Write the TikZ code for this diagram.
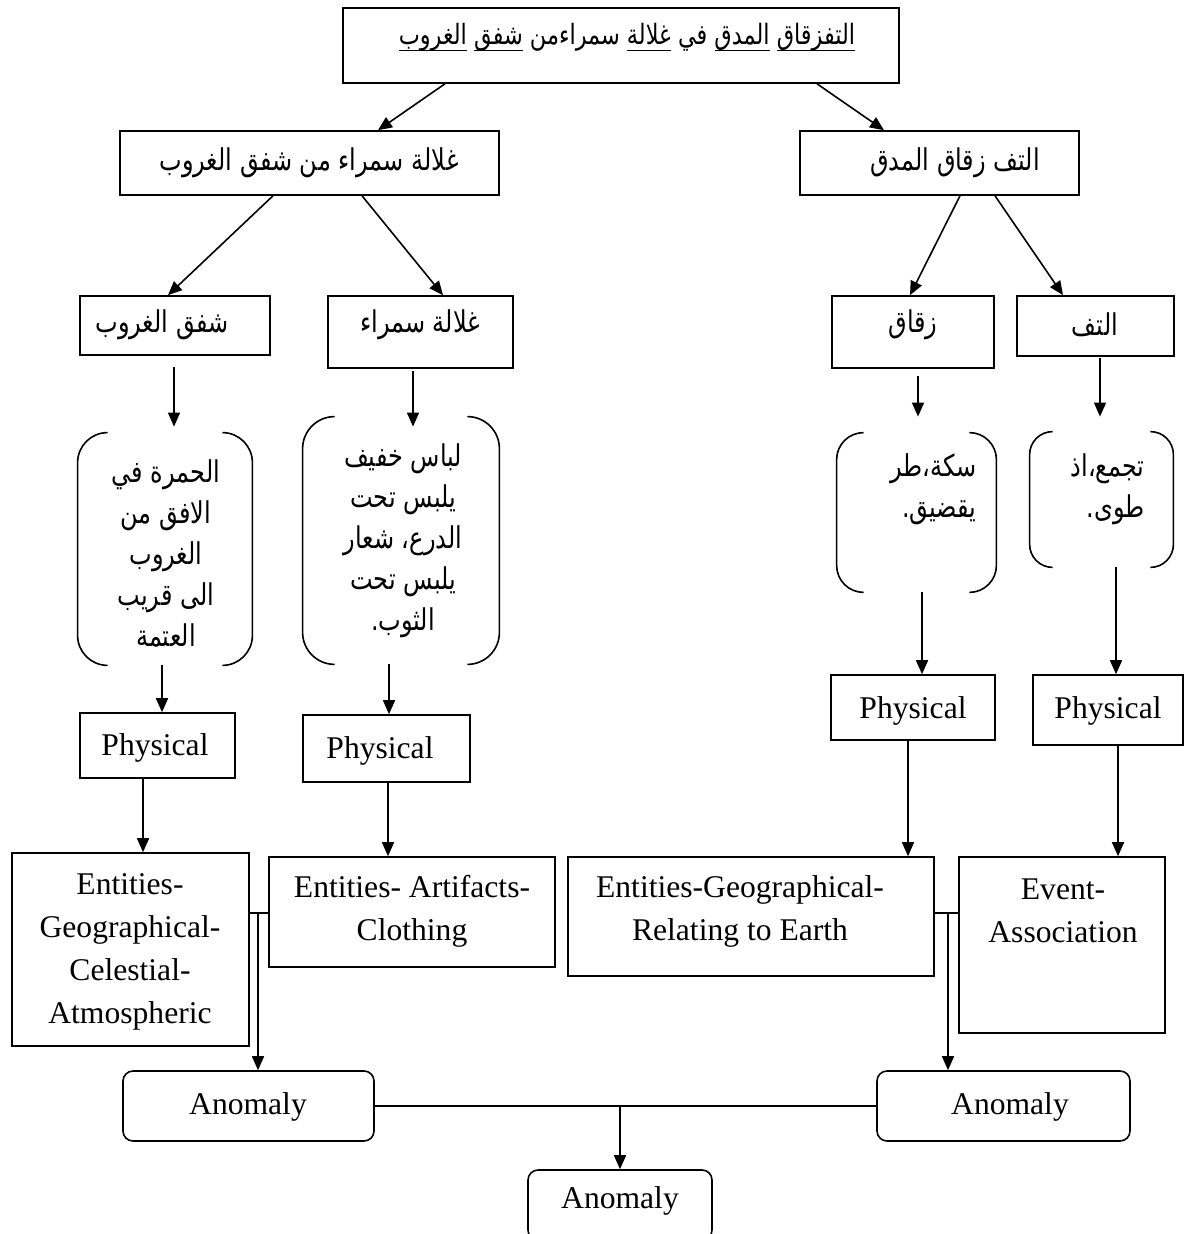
\documentclass[tikz,border=0pt]{standalone}
\usepackage{fontspec}
\setmainfont{Liberation Serif}
\newfontfamily\arabicfont[Script=Arabic, FakeStretch=0.8]{DejaVu Sans}
\TeXXeTstate=1
\usetikzlibrary{arrows.meta,fit}

% one right-to-left line of Arabic text
\newcommand\ar[1]{{\arabicfont\beginR #1\endR}}
% underlined Arabic word (rule drawn at a fixed depth below the baseline)
\newcommand\ulw[1]{\setbox0\hbox{#1}\hbox{\rlap{\rule[-3.5pt]{\wd0}{0.7pt}}\box0}}
% open bracket frame: only the curved left and right sides of a node
\newcommand\bracketpair[2]{%
  \draw[ln, rounded corners=#2] ([xshift=#2]#1.north west) -- (#1.north west)
        -- (#1.south west) -- ([xshift=#2]#1.south west);
  \draw[ln, rounded corners=#2] ([xshift=-#2]#1.north east) -- (#1.north east)
        -- (#1.south east) -- ([xshift=-#2]#1.south east);}

\begin{document}
\begin{tikzpicture}[x=0.5pt,y=-0.5pt,
  box/.style={draw, line width=0.8pt, inner sep=0pt},
  rbox/.style={box, rounded corners=5pt},
  hold/.style={inner sep=0pt},
  ln/.style={line width=0.8pt},
  arr/.style={line width=0.8pt, -{Triangle[length=7pt,width=6pt]}},
  en/.style={font=\fontsize{15.8}{21.5}\selectfont, align=center, inner sep=0pt},
  arb/.style={font=\arabicfont\fontsize{15}{20.5}\selectfont, align=center, inner sep=0pt},
]
\useasboundingbox (0,0) rectangle (1194,1234);

% ---------- frames ----------
\node[box, fit={(343,8) (899,83)}] (T) {};
\node[box, fit={(120,131) (499,195)}] (A) {};
\node[box, fit={(800,131) (1079,195)}] (B) {};
\node[box, fit={(80,296) (270,355)}] (C) {};
\node[box, fit={(328,296) (513,368)}] (D) {};
\node[box, fit={(832,296) (994,368)}] (E) {};
\node[box, fit={(1017,296) (1174,356)}] (F) {};
\node[hold, fit={(78,433) (252,665)}] (b1) {};
\node[hold, fit={(303,417) (499,664)}] (b2) {};
\node[hold, fit={(837,433) (996,592)}] (b3) {};
\node[hold, fit={(1030,432) (1173,567)}] (b4) {};
\node[box, fit={(80,713) (235,778)}] (P1) {};
\node[box, fit={(303,715) (470,782)}] (P2) {};
\node[box, fit={(831,675) (995,740)}] (P3) {};
\node[box, fit={(1033,675) (1183,745)}] (P4) {};
\node[box, fit={(12,853) (249,1046)}] (E1) {};
\node[box, fit={(269,857) (555,967)}] (E2) {};
\node[box, fit={(568,857) (934,976)}] (E3) {};
\node[box, fit={(959,857) (1165,1033)}] (E4) {};
\node[rbox, fit={(123,1071) (374,1141)}] (N1) {};
\node[rbox, fit={(877,1071) (1130,1141)}] (N2) {};
\node[rbox, fit={(528,1170) (712,1240)}] (N3) {};

\bracketpair{b1}{15pt}
\bracketpair{b2}{16pt}
\bracketpair{b3}{13.5pt}
\bracketpair{b4}{11.5pt}

% ---------- texts ----------
\node[arb, font=\arabicfont\fontsize{14}{20}\selectfont] (Tt) at (627,37) {\ar{\ulw{التفزقاق} \ulw{المدق} في \ulw{غلالة} سمراءمن \ulw{شفق} \ulw{الغروب}}};
\node[arb] (At) at (309,163) {\ar{غلالة سمراء من شفق الغروب}};
\node[arb] (Bt) at (955,163) {\ar{التف زقاق المدق}};
\node[arb] (Ct) at (162,325) {\ar{شفق الغروب}};
\node[arb] (Dt) at (420,325) {\ar{غلالة سمراء}};
\node[arb] (Et) at (913,325) {\ar{زقاق}};
\node[arb] (Ft) at (1095,325) {\ar{التف}};
\node[arb] (b1t) at (166,553) {\ar{الحمرة في}\\\ar{الافق من}\\\ar{الغروب}\\\ar{الى قريب}\\\ar{العتمة}};
\node[arb] (b2t) at (403,541) {\ar{لباس خفيف}\\\ar{يلبس تحت}\\\ar{الدرع، شعار}\\\ar{يلبس تحت}\\\ar{الثوب.}};
\node[arb, align=right, anchor=east] (b3t) at (977,489) {\ar{سكة،طر}\\\ar{يقضيق.}};
\node[arb, align=right, anchor=east] (b4t) at (1145,489) {\ar{تجمع،اذ}\\\ar{طوى.}};
\node[en] (P1t) at (155,748) {Physical};
\node[en] (P2t) at (380,751) {Physical};
\node[en] (P3t) at (913,711) {Physical};
\node[en] (P4t) at (1108,711) {Physical};
\node[en] (E1t) at (130,952) {Entities-\\Geographical-\\Celestial-\\Atmospheric};
\node[en] (E2t) at (412,911) {Entities- Artifacts-\\Clothing};
\node[en] (E3t) at (740,911) {Entities-Geographical-\\Relating to Earth};
\node[en] (E4t) at (1063,911) {Event-\\Association};
\node[en] (N1t) at (248,1107) {Anomaly};
\node[en] (N2t) at (1010,1107) {Anomaly};
\node[en] (N3t) at (620,1201) {Anomaly};

% ---------- connectors ----------
\draw[arr] (T.south -| 445,0) -- (A.north -| 378,0);
\draw[arr] (T.south -| 817,0) -- (B.north -| 884,0);
\draw[arr] (A.south -| 273,0) -- (C.north -| 168,0);
\draw[arr] (A.south -| 362,0) -- (D.north -| 443,0);
\draw[arr] (B.south -| 960,0) -- (E.north -| 910,0);
\draw[arr] (B.south -| 995,0) -- (F.north -| 1063,0);

\draw[arr, shorten <=5.5pt, shorten >=3pt] (C.south -| 174,0) -- (b1.north -| 174,0);
\draw[arr, shorten <=1pt, shorten >=-5pt] (D.south -| 413,0) -- (b2.north -| 413,0);
\draw[arr, shorten <=3.5pt, shorten >=8pt] (E.south -| 918,0) -- (b3.north -| 918,0);
\draw[arr, shorten <=0.5pt, shorten >=7.5pt] (F.south -| 1100,0) -- (b4.north -| 1100,0);

\draw[arr] (b1.south -| 162,0) -- (P1.north -| 162,0);
\draw[arr] (b2.south -| 389,0) -- (P2.north -| 389,0);
\draw[arr] (b3.south -| 922,0) -- (P3.north -| 922,0);
\draw[arr] (b4.south -| 1116,0) -- (P4.north -| 1116,0);

\draw[arr] (P1.south -| 143,0) -- (E1.north -| 143,0);
\draw[arr] (P2.south -| 388,0) -- (E2.north -| 388,0);
\draw[arr] (P3.south -| 908,0) -- (E3.north -| 908,0);
\draw[arr] (P4.south -| 1118,0) -- (E4.north -| 1118,0);

\coordinate (j1) at (258,913);
\coordinate (j2) at (948,913);
\draw[ln] (E1.east |- j1) -- (E2.west |- j1);
\draw[arr] (j1) -- (N1.north -| j1);
\draw[ln] (E3.east |- j2) -- (E4.west |- j2);
\draw[arr] (j2) -- (N2.north -| j2);

\coordinate (j3) at (620,1106);
\draw[ln] (N1.east) -- (N2.west);
\draw[arr] (j3) -- (N3.north -| j3);
\end{tikzpicture}
\end{document}
